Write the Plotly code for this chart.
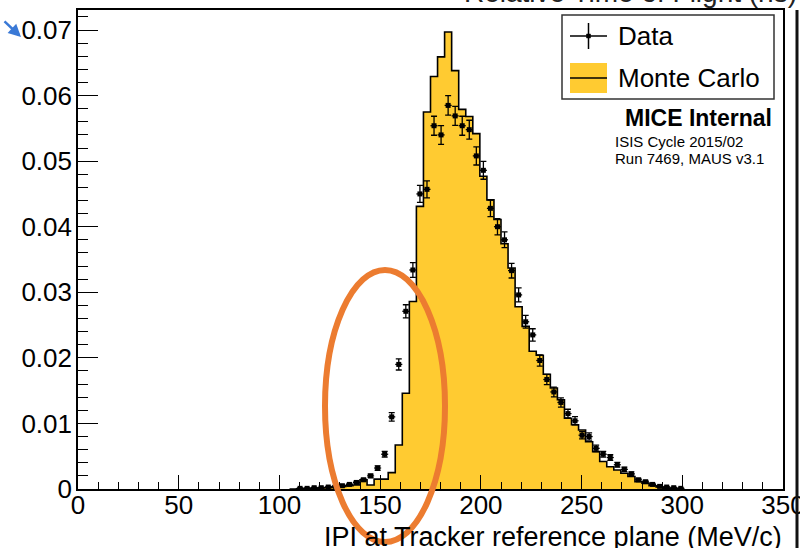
import plotly.graph_objects as go

# ---------------- data ----------------
bin_width = 3.5
mc_first_edge = 105.0
mc_values = [
    0.0, 0.00002, 0.00005, 0.0001, 0.00015, 0.0002, 0.0003, 0.0004, 0.0005, 0.0006,
    0.0014, 0.0006, 0.0015, 0.0015, 0.0025, 0.0067, 0.0146, 0.0286, 0.0431, 0.0575,
    0.0629, 0.0659, 0.0697, 0.0638, 0.0579, 0.0568, 0.0542, 0.0477, 0.0441, 0.0411,
    0.0374, 0.0337, 0.0278, 0.0248, 0.0210, 0.0204, 0.0175, 0.0154, 0.0136, 0.0108,
    0.0098, 0.0090, 0.0072, 0.0057, 0.0042, 0.0034, 0.0029, 0.0024, 0.0019, 0.0011,
    0.0009, 0.0005, 0.0003, 0.0001, 0.00005, 0.0,
]

data_centers = [
    110.25, 113.75, 117.25, 120.75, 124.25, 127.75, 131.25, 134.75, 138.25, 141.75,
    145.25, 148.75, 152.25, 155.75, 159.25, 162.75, 166.25, 169.75, 173.25, 176.75,
    180.25, 183.75, 187.25, 190.75, 194.25, 197.75, 201.25, 204.75, 208.25, 211.75,
    215.25, 218.75, 222.25, 225.75, 229.25, 232.75, 236.25, 239.75, 243.25, 246.75,
    250.25, 253.75, 257.25, 260.75, 264.25, 267.75, 271.25, 274.75, 278.25, 281.75,
    285.25, 288.75, 292.25, 295.75, 299.25,
]
data_values = [
    0.0001, 0.0001, 0.0002, 0.0002, 0.0003, 0.0004, 0.0005, 0.0007, 0.0010, 0.0014,
    0.0020, 0.0032, 0.0053, 0.0110, 0.0190, 0.0271, 0.0334, 0.0450, 0.0457, 0.0554,
    0.0540, 0.0585, 0.0569, 0.0554, 0.0548, 0.0508, 0.0486, 0.0428, 0.0400, 0.0380,
    0.0333, 0.0296, 0.0255, 0.0235, 0.0196, 0.0167, 0.0148, 0.0132, 0.0115, 0.0104,
    0.0082, 0.0080, 0.0062, 0.0053, 0.0048, 0.0037, 0.0030, 0.0023, 0.0014, 0.0011,
    0.0007, 0.0004, 0.0003, 0.0002, 0.0001,
]
data_errors = [
    0.00006, 0.00006, 0.00008, 0.00008, 0.0001, 0.00012, 0.00013, 0.00015, 0.00018, 0.00022,
    0.00026, 0.00034, 0.00044, 0.00064, 0.00085, 0.001, 0.00112, 0.0013, 0.0013, 0.00145,
    0.00143, 0.00148, 0.00146, 0.00145, 0.00144, 0.00139, 0.00136, 0.00127, 0.00123, 0.0012,
    0.00112, 0.00106, 0.00098, 0.00094, 0.00086, 0.00079, 0.00075, 0.00071, 0.00066, 0.00063,
    0.00056, 0.00055, 0.00049, 0.00045, 0.00042, 0.00037, 0.00034, 0.0003, 0.00023, 0.0002,
    0.00016, 0.00012, 0.0001, 0.00008, 0.00006,
]

x_tick_values = [0, 50, 100, 150, 200, 250, 300, 350]
y_tick_values = [0, 0.01, 0.02, 0.03, 0.04, 0.05, 0.06, 0.07]
y_tick_labels = ["0", "0.01", "0.02", "0.03", "0.04", "0.05", "0.06", "0.07"]

x_title = "IPI at Tracker reference plane (MeV/c)"
top_title = "Relative Time of Flight (ns)"
legend_labels = ["Data", "Monte Carlo"]
label_main = "MICE Internal"
label_lines = ["ISIS Cycle 2015/02", "Run 7469, MAUS v3.1"]

# ---------------- layout helpers ----------------
W, H = 800, 548
L, R, T, B = 78, 783, 10, 489
FONT = "Liberation Sans, Arial, Helvetica, sans-serif"
YELLOW = "#FFCB31"
ORANGE = "#EC7C30"


def px(x):
    return (x - L) / (R - L)


def py(y):
    return (B - y) / (B - T)


# step outline for MC
mc_edges = [mc_first_edge + i * bin_width for i in range(len(mc_values) + 1)]
mc_y = mc_values + [mc_values[-1]]

fig = go.Figure()
fig.add_trace(go.Scatter(
    x=mc_edges, y=mc_y, mode="lines", line_shape="hv",
    line=dict(color="black", width=1.6),
    fill="tozeroy", fillcolor=YELLOW, showlegend=False, hoverinfo="skip",
))
fig.add_trace(go.Scatter(
    x=data_centers, y=data_values, mode="markers",
    marker=dict(symbol="square", size=5, color="black"),
    error_y=dict(type="data", array=data_errors, visible=True, color="black",
                 thickness=1.3, width=3),
    error_x=dict(type="constant", value=bin_width / 2, visible=True, color="black",
                 thickness=1.3, width=0),
    showlegend=False,
))

shapes = []
annotations = []

# legend box
shapes.append(dict(type="rect", xref="paper", yref="paper",
                   x0=px(562), x1=px(774), y0=py(99), y1=py(15),
                   line=dict(color="#333", width=1.5), fillcolor="white"))
# Data symbol
shapes.append(dict(type="line", xref="paper", yref="paper",
                   x0=px(570), x1=px(607), y0=py(36), y1=py(36),
                   line=dict(color="black", width=1.5)))
shapes.append(dict(type="line", xref="paper", yref="paper",
                   x0=px(588.5), x1=px(588.5), y0=py(23), y1=py(49),
                   line=dict(color="black", width=1.5)))
shapes.append(dict(type="rect", xref="paper", yref="paper",
                   x0=px(586.5), x1=px(590.5), y0=py(38), y1=py(34),
                   line=dict(color="black", width=0.5), fillcolor="black"))
# MC symbol
shapes.append(dict(type="rect", xref="paper", yref="paper",
                   x0=px(570), x1=px(607), y0=py(93), y1=py(63),
                   line=dict(width=0), fillcolor=YELLOW))
shapes.append(dict(type="line", xref="paper", yref="paper",
                   x0=px(570), x1=px(607), y0=py(78), y1=py(78),
                   line=dict(color="black", width=1.5)))
# orange ellipse
shapes.append(dict(type="circle", xref="paper", yref="paper",
                   x0=px(325), x1=px(445), y0=py(542), y1=py(270),
                   line=dict(color=ORANGE, width=6)))
# dark border at right edge of screenshot
shapes.append(dict(type="line", xref="paper", yref="paper",
                   x0=px(797), x1=px(797), y0=py(10), y1=py(548),
                   line=dict(color="#111", width=3)))

annotations.append(dict(xref="paper", yref="paper", x=px(616), y=py(36),
                        text=legend_labels[0], showarrow=False, xanchor="left",
                        yanchor="middle", font=dict(size=26, color="black", family=FONT)))
annotations.append(dict(xref="paper", yref="paper", x=px(616), y=py(78),
                        text=legend_labels[1], showarrow=False, xanchor="left",
                        yanchor="middle", font=dict(size=26, color="black", family=FONT)))
annotations.append(dict(xref="paper", yref="paper", x=px(774), y=py(118),
                        text="<b>" + label_main + "</b>", showarrow=False, xanchor="right",
                        yanchor="middle", font=dict(size=23, color="black", family=FONT)))
annotations.append(dict(xref="paper", yref="paper", x=px(613), y=py(141),
                        text=label_lines[0], showarrow=False, xanchor="left",
                        yanchor="middle", font=dict(size=15, color="black", family=FONT)))
annotations.append(dict(xref="paper", yref="paper", x=px(613), y=py(158),
                        text=label_lines[1], showarrow=False, xanchor="left",
                        yanchor="middle", font=dict(size=15, color="black", family=FONT)))
annotations.append(dict(xref="paper", yref="paper", x=px(784), y=py(536.5),
                        text=x_title, showarrow=False, xanchor="right",
                        yanchor="middle", font=dict(size=27, color="black", family=FONT)))
annotations.append(dict(xref="paper", yref="paper", x=px(799), y=py(-8),
                        text=top_title, showarrow=False, xanchor="right",
                        yanchor="middle", font=dict(size=28, color="#222", family=FONT)))
# blue arrow in the corner
annotations.append(dict(xref="paper", yref="paper", x=px(21), y=py(37),
                        ax=-18, ay=-17, text="", showarrow=True, arrowhead=2,
                        arrowsize=1, arrowwidth=2.5, arrowcolor="#3A79D6"))

fig.update_layout(
    width=W, height=H,
    margin=dict(l=L, r=W - R, t=T, b=H - B, pad=0, autoexpand=False),
    paper_bgcolor="white", plot_bgcolor="white",
    font=dict(family=FONT, size=26, color="black"),
    shapes=shapes, annotations=annotations,
    showlegend=False,
)
fig.update_xaxes(
    range=[0, 350], tickmode="array", tickvals=x_tick_values,
    ticks="inside", ticklen=14, tickwidth=1.3, tickcolor="black",
    minor=dict(ticks="inside", dtick=10, tick0=0, ticklen=7, tickwidth=1.3, tickcolor="black"),
    showline=True, linecolor="black", linewidth=1.6, mirror=True,
    showgrid=False, zeroline=False, tickfont=dict(size=26, family=FONT),
    ticklabelstandoff=-8, ticklabeloverflow="allow", automargin=False,
)
fig.update_yaxes(
    range=[0, (B - T) / ((B - 30) / 0.07)], tickmode="array",
    tickvals=y_tick_values, ticktext=y_tick_labels,
    ticks="inside", ticklen=20, tickwidth=1.3, tickcolor="black",
    minor=dict(ticks="inside", dtick=0.002, tick0=0, ticklen=10, tickwidth=1.3, tickcolor="black"),
    showline=True, linecolor="black", linewidth=1.6, mirror=True,
    showgrid=False, zeroline=False, tickfont=dict(size=26, family=FONT),
    ticklabelstandoff=-1, ticklabeloverflow="allow", automargin=False,
)

fig.write_html("out.html")
